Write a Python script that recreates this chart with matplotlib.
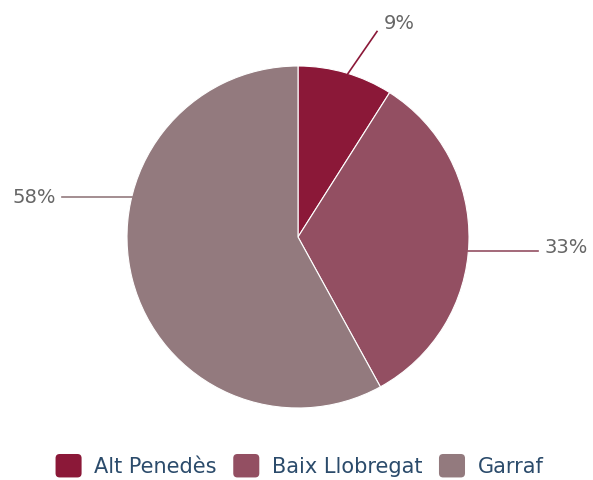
import numpy as np
import matplotlib.pyplot as plt
from matplotlib.patches import Patch, FancyBboxPatch
from matplotlib.legend_handler import HandlerPatch

labels = ['Alt Penedès', 'Baix Llobregat', 'Garraf']
values = [9, 33, 58]
colors = ['#8b1838', '#934f62', '#937a7e']
# angle (deg, ccw from x-axis) where each connector touches the rim
conn_angles = [73, -4.7, 166.5]


class RoundBox(HandlerPatch):
    def create_artists(self, legend, orig_handle, xdescent, ydescent,
                       width, height, fontsize, trans):
        p = FancyBboxPatch((-xdescent + 2, -ydescent + 1), width - 4, height - 2,
                           boxstyle='round,pad=2,rounding_size=3',
                           facecolor=orig_handle.get_facecolor(), edgecolor='none',
                           transform=trans)
        return [p]


fig = plt.figure(figsize=(5.93, 4.80), dpi=100)
ax = fig.add_axes([0, 0, 1, 1])

cx, cy, r = 298, 243, 171
wedges, _ = ax.pie(values, colors=colors, startangle=90, counterclock=False,
                   center=(cx, cy), radius=r, frame=True,
                   wedgeprops=dict(edgecolor='white', linewidth=0.8))
ax.set_xlim(0, 593)
ax.set_ylim(0, 480)
ax.set_aspect('equal')
ax.axis('off')

total = sum(values)
for v, col, a in zip(values, colors, conn_angles):
    t = np.deg2rad(a)
    x0, y0 = cx + r * np.cos(t), cy + r * np.sin(t)
    txt = f'{round(100 * v / total)}%'
    if np.cos(t) > 0.5:
        x1, y1 = x0 + 70, y0
        ax.plot([x0, x1], [y0, y1], color=col, lw=1.2)
        ax.text(x1 + 6, y1 + 4, txt, ha='left', va='center', fontsize=14, color='#666666')
    elif np.cos(t) < -0.5:
        x1, y1 = x0 - 70, y0
        ax.plot([x0, x1], [y0, y1], color=col, lw=1.2)
        ax.text(x1 - 6, y1, txt, ha='right', va='center', fontsize=14, color='#666666')
    else:
        x1, y1 = x0 + 29, y0 + 42
        ax.plot([x0, x1], [y0, y1], color=col, lw=1.2)
        ax.text(x1 + 7, y1 + 8, txt, ha='left', va='center', fontsize=14, color='#666666')

handles = [Patch(facecolor=c, edgecolor='none') for c in colors]
leg = fig.legend(handles, labels, loc='center', bbox_to_anchor=(0.505, 0.029),
                 ncol=3, frameon=False, fontsize=15, handlelength=1.25,
                 handleheight=1.15, handletextpad=0.6, columnspacing=0.8,
                 handler_map={Patch: RoundBox()})
for t in leg.get_texts():
    t.set_color('#2b4b6b')

fig.savefig('out.png', dpi=100)
